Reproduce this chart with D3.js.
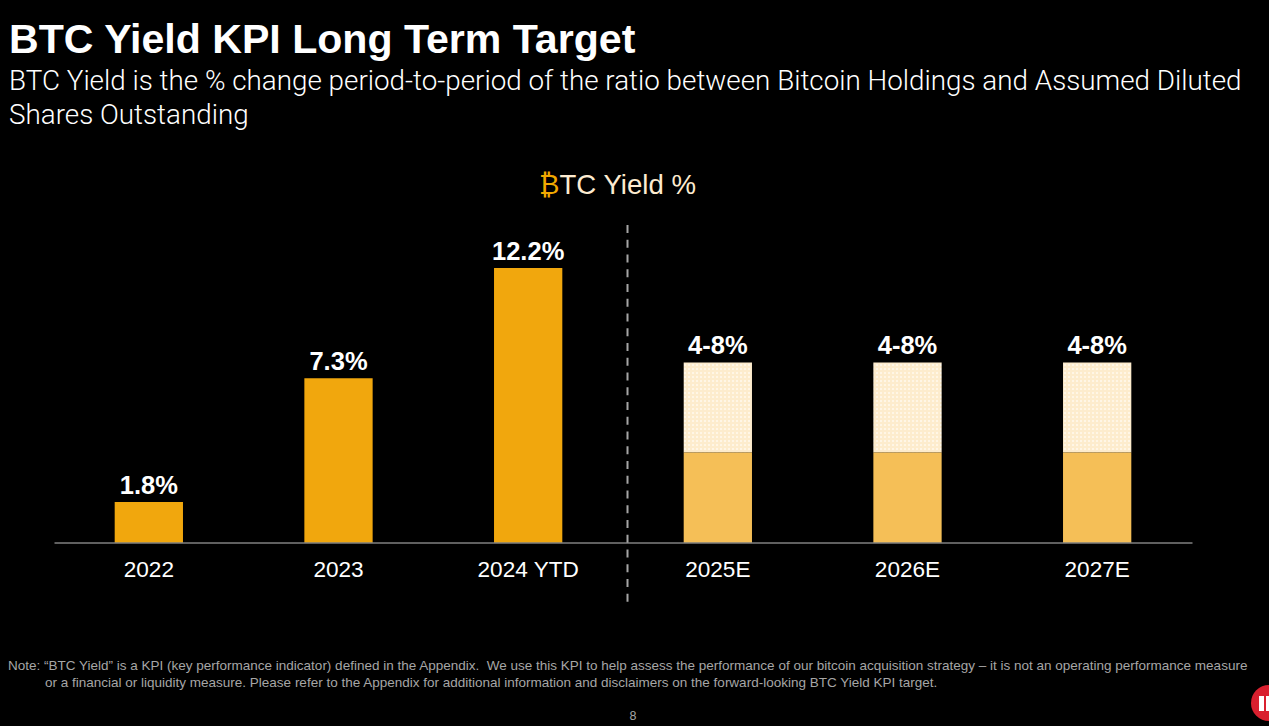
<!DOCTYPE html>
<html><head><meta charset="utf-8">
<script src="https://cdn.jsdelivr.net/npm/d3@7"></script>
<style>html,body{margin:0;padding:0;background:#000;overflow:hidden}svg{display:block}text{font-family:"Liberation Sans",Arial,sans-serif;white-space:pre}</style>
</head><body><svg id="c" width="1269" height="726"></svg>
<script>
const categories=["2022","2023","2024 YTD","2025E","2026E","2027E"];
const actualValues=[1.8,7.3,12.2,null,null,null];
const targetLow=[null,null,null,4,4,4];
const targetHigh=[null,null,null,8,8,8];
const valueLabels=["1.8%","7.3%","12.2%","4-8%","4-8%","4-8%"];
const noteLines=["Note: “BTC Yield” is a KPI (key performance indicator) defined in the Appendix.  We use this KPI to help assess the performance of our bitcoin acquisition strategy – it is not an operating performance measure","or a financial or liquidity measure. Please refer to the Appendix for additional information and disclaimers on the forward-looking BTC Yield KPI target."];
const svg=d3.select("#c");
svg.append("rect").attr("width",1269).attr("height",726).attr("fill","#000");
const defs=svg.append("defs");
const pat=defs.append("pattern").attr("id","dots").attr("width",4).attr("height",4).attr("patternUnits","userSpaceOnUse");
pat.append("rect").attr("width",4).attr("height",4).attr("fill","#fdeccd");
pat.append("rect").attr("width",2).attr("height",2).attr("fill","#fff6e6");
const x=d3.scaleBand().domain(categories).range([54,1192]).paddingInner(0.64).paddingOuter(0.32);
const y=d3.scaleLinear().domain([0,12.2]).range([542.5,268]);
const text=(s,tx,ty,size,fill,opts={})=>svg.append("text").attr("x",tx).attr("y",ty).attr("font-size",size).attr("fill",fill).attr("font-weight",opts.w||"normal").attr("text-anchor",opts.a||"start").style("font-family",opts.f||null).text(s);
text("BTC Yield KPI Long Term Target",9,53,41.1,"#fff",{w:"bold"});
text("BTC Yield is the % change period-to-period of the ratio between Bitcoin Holdings and Assumed Diluted",9,90,27.8,"#fff",{w:300,f:"Roboto"});
text("Shares Outstanding",9,123.5,27.8,"#fff",{w:300,f:"Roboto"});
const ct=svg.append("text").attr("x",539).attr("y",194).attr("font-size",27.6);
ct.append("tspan").attr("fill","#f2a900").text("₿");
ct.append("tspan").attr("fill","#fdebd0").text("TC Yield %");
svg.selectAll(".hi").data(categories.filter((c,i)=>targetHigh[i]!=null)).join("rect")
 .attr("x",c=>x(c)).attr("width",x.bandwidth())
 .attr("y",c=>y(targetHigh[categories.indexOf(c)]))
 .attr("height",c=>{const i=categories.indexOf(c);return y(targetLow[i])-y(targetHigh[i]);})
 .attr("fill","url(#dots)");
svg.selectAll(".lo").data(categories.filter((c,i)=>targetLow[i]!=null)).join("rect")
 .attr("x",c=>x(c)).attr("width",x.bandwidth())
 .attr("y",c=>y(targetLow[categories.indexOf(c)]))
 .attr("height",c=>y(0)-y(targetLow[categories.indexOf(c)]))
 .attr("fill","#f5bf57");
svg.selectAll(".act").data(categories.filter((c,i)=>actualValues[i]!=null)).join("rect")
 .attr("x",c=>x(c)).attr("width",x.bandwidth())
 .attr("y",c=>y(actualValues[categories.indexOf(c)]))
 .attr("height",c=>y(0)-y(actualValues[categories.indexOf(c)]))
 .attr("fill","#f1a70d");
categories.forEach((c,i)=>{
 const v=actualValues[i]!=null?actualValues[i]:targetHigh[i];
 text(valueLabels[i],x(c)+x.bandwidth()/2,y(v)-8.5,25.5,"#fff",{w:"bold",a:"middle"});
});
const ax=svg.append("g").attr("transform","translate(0,542.5)").call(d3.axisBottom(x).tickSize(0).tickPadding(18));
ax.select(".domain").attr("stroke","#bfbfbf").attr("stroke-width",1);
ax.selectAll("text").attr("font-size",22.6).attr("fill","#fff").attr("font-family",'"Liberation Sans",Arial,sans-serif');
svg.append("line").attr("x1",627.5).attr("x2",627.5).attr("y1",225).attr("y2",604).attr("stroke","#a6a6a6").attr("stroke-width",2).attr("stroke-dasharray","8 6.75");
text(noteLines[0],8,670,13.5,"#a6a6a6");
text(noteLines[1],45,687,13.5,"#a6a6a6");
text("8",633,720,12.5,"#a6a6a6",{a:"middle"});
svg.append("circle").attr("cx",1269).attr("cy",703).attr("r",18).attr("fill","#d9202f");
svg.append("rect").attr("x",1259).attr("y",696).attr("width",5).attr("height",15).attr("fill","#fff");
svg.append("rect").attr("x",1266).attr("y",696).attr("width",3).attr("height",15).attr("fill","#fff");
</script></body></html>
